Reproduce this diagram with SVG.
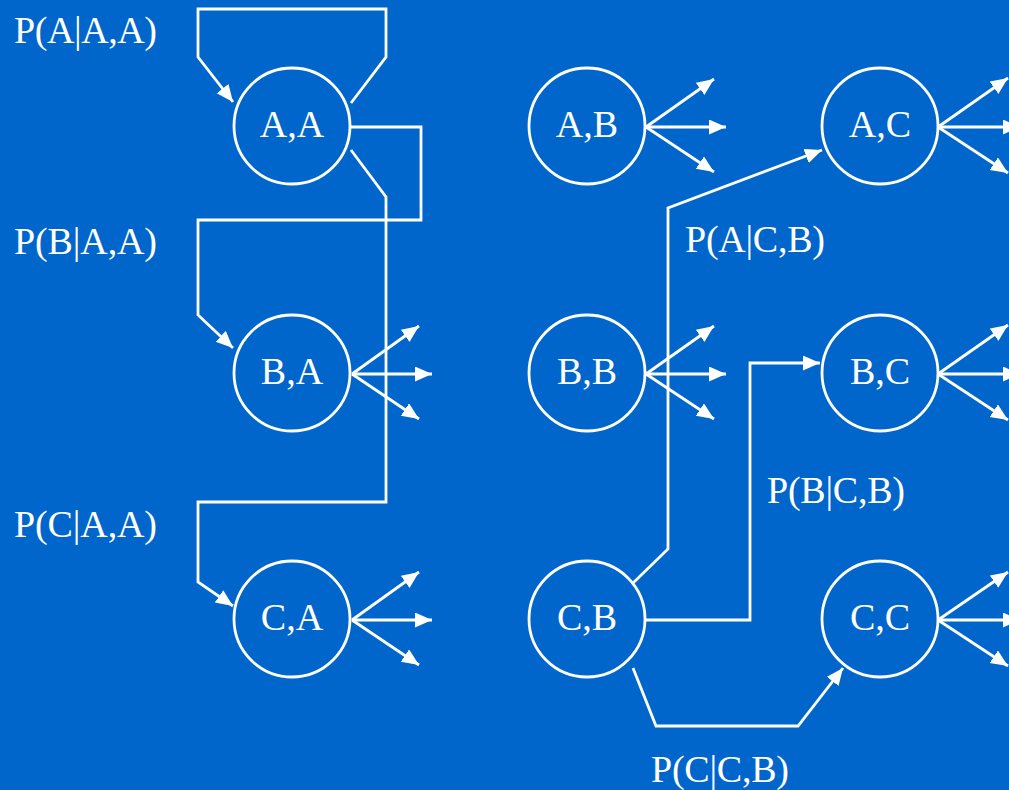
<svg xmlns="http://www.w3.org/2000/svg" width="1009" height="790" viewBox="0 0 1009 790">
<style>
.bg{fill:#0066CC}
.n{fill:none;stroke:#fff;stroke-width:2.8}
.c{fill:none;stroke:#fff;stroke-width:2.8;stroke-linejoin:miter}
.a{marker-end:url(#ah)}
text{font-family:"Liberation Serif","Times New Roman",serif;fill:#fff;font-size:38px}
.m{text-anchor:middle}
</style>
<defs>
<marker id="ah" markerUnits="userSpaceOnUse" markerWidth="18" markerHeight="16" refX="17" refY="7.5" orient="auto">
<path d="M0,0 L17,7.5 L0,15 z" fill="#fff"/>
</marker>
</defs>
<rect class="bg" width="1009" height="790"/>
<g id="nodes">
<g id="AA"><circle class="n" cx="292" cy="126" r="58"/><text class="m" x="292" y="137">A,A</text></g>
<g id="BA"><circle class="n" cx="292" cy="373" r="58"/><text class="m" x="292" y="384">B,A</text></g>
<g id="CA"><circle class="n" cx="292" cy="619" r="58"/><text class="m" x="292" y="630">C,A</text></g>
<g id="AB"><circle class="n" cx="587" cy="126" r="58"/><text class="m" x="587" y="137">A,B</text></g>
<g id="BB"><circle class="n" cx="587" cy="373" r="58"/><text class="m" x="587" y="384">B,B</text></g>
<g id="CB"><circle class="n" cx="587" cy="619" r="58"/><text class="m" x="587" y="630">C,B</text></g>
<g id="AC"><circle class="n" cx="880" cy="126" r="58"/><text class="m" x="880" y="137">A,C</text></g>
<g id="BC"><circle class="n" cx="880" cy="373" r="58"/><text class="m" x="880" y="384">B,C</text></g>
<g id="CC"><circle class="n" cx="880" cy="619" r="58"/><text class="m" x="880" y="630">C,C</text></g>
</g>
<g id="connectors">
<path class="c a" d="M351,103 L386,57 L386,9 L198,9 L198,57 L233,102"/>
<path class="c a" d="M351,127 L421,127 L421,220 L198,220 L198,315 L233,348"/>
<path class="c a" d="M351,150 L386,197 L386,502 L198,502 L198,582 L233,606"/>
<path class="c a" d="M633,583 L668,549 L668,208 L822,150"/>
<path class="c a" d="M645,620 L750,620 L750,363 L820,363"/>
<path class="c a" d="M633,668 L656,726 L798,726 L843,668"/>
<g id="fans">
<path class="c a" d="M352,374 L419,326"/><path class="c a" d="M352,374 L432,374"/><path class="c a" d="M352,374 L419,419"/>
<path class="c a" d="M352,620 L419,572"/><path class="c a" d="M352,620 L432,620"/><path class="c a" d="M352,620 L419,665"/>
<path class="c a" d="M646,127 L714,79"/><path class="c a" d="M646,127 L726,127"/><path class="c a" d="M646,127 L714,172"/>
<path class="c a" d="M646,374 L714,326"/><path class="c a" d="M646,374 L726,374"/><path class="c a" d="M646,374 L714,419"/>
<path class="c a" d="M938,127 L1008,78"/><path class="c a" d="M938,127 L1020,127"/><path class="c a" d="M938,127 L1008,173"/>
<path class="c a" d="M938,374 L1008,325"/><path class="c a" d="M938,374 L1020,374"/><path class="c a" d="M938,374 L1008,420"/>
<path class="c a" d="M938,620 L1008,572"/><path class="c a" d="M938,620 L1020,620"/><path class="c a" d="M938,620 L1008,666"/>
</g>
</g>
<g id="labels">
<text x="14" y="43" textLength="143">P(A|A,A)</text>
<text x="14" y="254" textLength="143">P(B|A,A)</text>
<text x="14" y="537" textLength="143">P(C|A,A)</text>
<text x="685" y="252" textLength="140">P(A|C,B)</text>
<text x="767" y="503" textLength="138">P(B|C,B)</text>
<text x="651" y="782" textLength="138">P(C|C,B)</text>
</g>
</svg>
